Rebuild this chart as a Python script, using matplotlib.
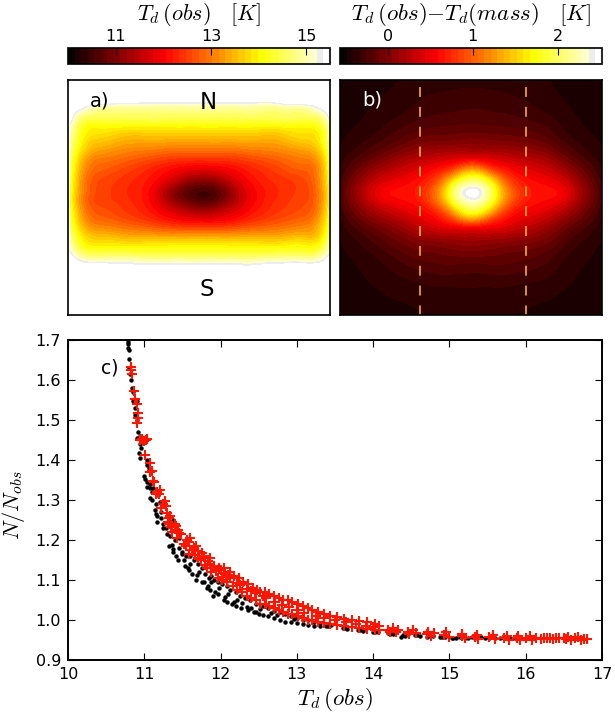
import matplotlib
matplotlib.use('Agg')
import numpy as np
import matplotlib.pyplot as plt
import matplotlib.tri as mtri
from matplotlib.colors import ListedColormap

# panel a: dust temperature map (pixel columns / rows of the panel)
a_x = [70, 80, 100, 125, 150, 170, 185, 202, 220, 235, 255, 280, 305, 322, 330]
a_y = [97, 101, 106, 115, 125, 135, 150, 165, 180, 195, 210, 225, 240, 250, 260, 268, 272]
a_T = [
    [15.6, 15.6, 15.6, 15.6, 15.6, 15.6, 15.6, 15.6, 15.6, 15.6, 15.6, 15.6, 15.6, 15.6, 15.6],
    [15.6, 15.6, 15.6, 15.5, 15.4, 15.4, 15.4, 15.4, 15.4, 15.4, 15.4, 15.5, 15.6, 15.6, 15.6],
    [15.6, 15.5, 15.1, 15.0, 15.0, 15.0, 15.0, 15.0, 15.0, 15.0, 15.0, 15.0, 15.1, 15.5, 15.6],
    [15.6, 14.9, 14.6, 14.6, 14.6, 14.6, 14.6, 14.6, 14.6, 14.6, 14.6, 14.6, 14.6, 14.9, 15.5],
    [15.2, 14.4, 14.1, 14.1, 14.1, 14.1, 14.1, 14.1, 14.1, 14.1, 14.1, 14.1, 14.1, 14.4, 15.0],
    [15.0, 14.2, 13.8, 13.6, 13.6, 13.6, 13.6, 13.6, 13.6, 13.6, 13.6, 13.6, 13.8, 14.1, 14.8],
    [14.7, 13.9, 13.3, 13.1, 13.0, 12.9, 12.9, 12.9, 12.9, 12.9, 13.0, 13.1, 13.3, 13.8, 14.5],
    [14.5, 13.5, 12.85, 12.65, 12.4, 12.2, 12.1, 12.05, 12.1, 12.2, 12.4, 12.65, 12.85, 13.4, 14.3],
    [14.3, 13.3, 12.6, 12.4, 12.15, 11.7, 11.3, 11.1, 11.3, 11.7, 12.15, 12.4, 12.6, 13.3, 14.1],
    [14.2, 13.2, 12.55, 12.35, 12.0, 11.2, 10.75, 10.5, 10.75, 11.3, 12.0, 12.35, 12.55, 13.2, 14.0],
    [14.3, 13.3, 12.65, 12.45, 12.15, 11.7, 11.4, 11.2, 11.4, 11.7, 12.15, 12.45, 12.65, 13.3, 14.1],
    [14.5, 13.6, 13.0, 12.8, 12.6, 12.4, 12.3, 12.3, 12.3, 12.4, 12.6, 12.8, 13.0, 13.6, 14.3],
    [14.9, 14.1, 13.7, 13.6, 13.6, 13.6, 13.6, 13.6, 13.6, 13.6, 13.6, 13.6, 13.7, 14.0, 14.8],
    [15.2, 14.5, 14.2, 14.2, 14.2, 14.2, 14.2, 14.2, 14.2, 14.2, 14.2, 14.2, 14.2, 14.5, 15.1],
    [15.6, 15.2, 15.0, 15.0, 14.9, 14.9, 14.9, 14.9, 14.9, 14.9, 14.9, 15.0, 15.0, 15.2, 15.6],
    [15.6, 15.6, 15.6, 15.55, 15.5, 15.5, 15.5, 15.5, 15.5, 15.5, 15.5, 15.55, 15.6, 15.6, 15.6],
    [15.6, 15.6, 15.6, 15.6, 15.6, 15.6, 15.6, 15.6, 15.6, 15.6, 15.6, 15.6, 15.6, 15.6, 15.6],
]

# panel b: T_obs - T_mass
b_x = [340, 360, 385, 405, 420, 440, 455, 472, 490, 505, 526, 545, 560, 580, 602]
b_y = [80, 110, 130, 145, 160, 172, 183, 193, 203, 214, 226, 241, 260, 285, 315]
b_T = [
    [-.45, -.44, -.42, -.40, -.38, -.37, -.36, -.36, -.36, -.37, -.38, -.40, -.42, -.44, -.45],
    [-.44, -.42, -.38, -.34, -.30, -.27, -.26, -.25, -.26, -.27, -.30, -.34, -.38, -.42, -.44],
    [-.43, -.39, -.31, -.23, -.18, -.15, -.14, -.13, -.14, -.15, -.18, -.23, -.31, -.39, -.43],
    [-.41, -.33, -.20, -.08, .00, .04, .05, .06, .05, .04, .00, -.08, -.20, -.33, -.41],
    [-.37, -.20, .02, .18, .27, .38, .46, .55, .46, .38, .27, .18, .02, -.20, -.37],
    [-.33, -.04, .24, .38, .50, .72, 1.05, 1.45, 1.05, .72, .50, .38, .24, -.04, -.33],
    [-.27, .10, .44, .56, .66, 1.05, 1.75, 2.15, 1.75, 1.05, .66, .56, .44, .10, -.27],
    [-.24, .17, .56, .63, .72, 1.25, 2.05, 2.50, 2.00, 1.25, .72, .63, .56, .17, -.24],
    [-.27, .10, .44, .56, .66, 1.10, 1.80, 2.22, 1.80, 1.10, .66, .56, .44, .10, -.27],
    [-.33, -.04, .22, .38, .50, .75, 1.20, 1.65, 1.20, .75, .50, .38, .22, -.04, -.33],
    [-.37, -.20, .00, .16, .30, .45, .55, .65, .55, .45, .30, .16, .00, -.20, -.37],
    [-.41, -.32, -.18, -.06, .02, .07, .10, .12, .10, .07, .02, -.06, -.18, -.32, -.41],
    [-.43, -.39, -.31, -.23, -.18, -.15, -.14, -.14, -.14, -.15, -.18, -.23, -.31, -.39, -.43],
    [-.44, -.42, -.39, -.36, -.34, -.32, -.32, -.32, -.32, -.32, -.34, -.36, -.39, -.42, -.44],
    [-.45, -.44, -.43, -.42, -.41, -.40, -.40, -.40, -.40, -.40, -.41, -.42, -.43, -.44, -.45],
]

# panel b: dashed lines (column positions in the panel)
b_lines = [420, 526]

# panel c: (T_d, N/N_obs) pairs
black_pts = [
    (10.78, 1.695), (10.79, 1.69), (10.79, 1.68), (10.80, 1.675), (10.80, 1.652), (10.80, 1.63), (10.81, 1.615),
    (10.83, 1.60), (10.84, 1.58), (10.85, 1.57), (10.85, 1.548), (10.88, 1.53), (10.90, 1.548), (10.88, 1.512),
    (10.91, 1.50), (10.92, 1.47), (10.94, 1.46), (10.91, 1.455), (10.94, 1.44), (10.93, 1.418), (10.96, 1.43),
    (10.94, 1.405), (11.04, 1.387), (11.06, 1.38), (11.03, 1.40), (11.05, 1.395), (11.01, 1.353), (11.04, 1.332),
    (11.08, 1.34), (11.10, 1.32), (11.10, 1.30), (11.18, 1.313), (11.20, 1.295), (11.00, 1.36), (11.03, 1.345),
    (11.07, 1.33), (11.12, 1.33), (11.08, 1.305), (11.15, 1.29), (11.14, 1.275), (11.16, 1.265), (11.17, 1.245),
    (11.17, 1.26), (11.22, 1.27), (11.22, 1.255), (11.25, 1.23), (11.24, 1.24), (11.28, 1.23), (11.32, 1.235),
    (11.37, 1.25), (11.37, 1.24), (11.36, 1.187), (11.34, 1.21), (11.33, 1.185), (11.30, 1.215), (11.38, 1.17),
    (11.40, 1.20), (11.46, 1.205), (11.44, 1.15), (11.42, 1.16), (11.38, 1.178), (11.45, 1.18), (11.50, 1.17),
    (11.50, 1.165), (11.57, 1.13), (11.52, 1.15), (11.55, 1.16), (11.53, 1.135), (11.60, 1.16), (11.58, 1.125),
    (11.60, 1.14), (11.65, 1.15), (11.63, 1.115), (11.69, 1.112), (11.70, 1.14), (11.68, 1.10), (11.72, 1.12),
    (11.75, 1.13), (11.75, 1.095), (11.78, 1.095), (11.80, 1.115), (11.82, 1.08), (11.83, 1.085), (11.87, 1.11),
    (11.86, 1.075), (11.88, 1.095), (11.92, 1.10), (11.90, 1.06), (11.93, 1.07), (11.85, 1.105), (11.97, 1.095),
    (11.96, 1.065), (11.98, 1.08), (12.02, 1.09), (12.04, 1.05), (12.06, 1.057), (12.08, 1.085), (12.09, 1.045),
    (12.10, 1.065), (12.13, 1.075), (12.15, 1.04), (12.17, 1.046), (12.20, 1.07), (12.20, 1.035), (12.22, 1.05),
    (12.25, 1.06), (12.27, 1.03), (12.28, 1.042), (12.32, 1.055), (12.34, 1.033), (12.36, 1.025), (12.38, 1.05),
    (12.40, 1.03), (12.44, 1.02), (12.46, 1.04), (12.47, 1.02), (12.50, 1.015), (12.52, 1.028), (12.56, 1.012),
    (12.56, 1.035), (12.62, 1.01), (12.62, 1.03), (12.66, 1.017), (12.70, 1.005), (12.70, 1.022), (12.74, 1.012),
    (12.78, 1.00), (12.78, 1.02), (12.85, .995), (12.85, 1.015), (12.92, .995), (12.92, 1.01), (12.96, 1.002),
    (13.00, .993), (13.00, 1.005), (13.08, .99), (13.08, 1.00), (13.15, .988), (13.15, 1.00), (13.22, .986),
    (13.22, .996), (13.30, .985), (13.30, .993), (13.38, .985), (13.41, .986), (13.45, .988), (13.60, .981),
    (13.63, .98), (13.66, .978), (13.80, .976), (13.83, .975), (13.87, .973), (14.00, .971), (14.02, .97),
    (14.06, .969), (14.20, .967), (14.22, .966), (14.26, .965), (14.36, .957), (14.39, .962), (14.42, .96),
    (14.46, .964), (14.55, .962), (14.58, .962), (14.62, .96), (14.70, .957), (14.72, .96), (14.78, .959),
    (14.88, .958), (14.90, .958), (14.94, .957), (15.03, .954), (15.05, .956), (15.08, .955), (15.14, .958),
    (15.20, .956), (15.24, .955), (15.30, .957), (15.36, .955), (15.42, .957), (15.47, .956), (15.52, .955),
    (15.60, .956), (15.66, .955), (15.72, .956), (15.80, .955), (15.86, .955), (15.90, .954),
]
red_pts = [
    (10.82, 1.632), (10.83, 1.625), (10.84, 1.615), (10.86, 1.572), (10.88, 1.552), (10.90, 1.54), (10.92, 1.518),
    (10.92, 1.505), (10.91, 1.493), (10.97, 1.452), (10.99, 1.448), (11.03, 1.452), (10.95, 1.45), (11.02, 1.45),
    (11.01, 1.412), (11.07, 1.392), (11.10, 1.372), (11.08, 1.37), (11.11, 1.348), (11.13, 1.345), (11.17, 1.32),
    (11.19, 1.316), (11.20, 1.325), (11.15, 1.315), (11.27, 1.298), (11.22, 1.28), (11.28, 1.285), (11.25, 1.29),
    (11.30, 1.267), (11.32, 1.255), (11.34, 1.26), (11.35, 1.232), (11.33, 1.24), (11.31, 1.245), (11.36, 1.22),
    (11.42, 1.236), (11.40, 1.24), (11.46, 1.217), (11.44, 1.225), (11.48, 1.215), (11.43, 1.205), (11.52, 1.19),
    (11.60, 1.206), (11.55, 1.186), (11.56, 1.20), (11.58, 1.195), (11.62, 1.175), (11.58, 1.165), (11.65, 1.18),
    (11.66, 1.162), (11.68, 1.185), (11.70, 1.172), (11.70, 1.155), (11.76, 1.167), (11.74, 1.15), (11.78, 1.16),
    (11.83, 1.147), (11.80, 1.138), (11.82, 1.13), (11.86, 1.155), (11.86, 1.14), (11.88, 1.12), (11.94, 1.122),
    (11.92, 1.135), (11.90, 1.13), (11.96, 1.105), (11.98, 1.13), (12.00, 1.125), (12.05, 1.118), (12.03, 1.108),
    (12.02, 1.10), (12.04, 1.13), (12.08, 1.095), (12.10, 1.112), (12.13, 1.105), (12.09, 1.095), (12.12, 1.12),
    (12.16, 1.085), (12.18, 1.11), (12.22, 1.075), (12.22, 1.092), (12.24, 1.105), (12.26, 1.088), (12.28, 1.07),
    (12.30, 1.095), (12.34, 1.06), (12.35, 1.078), (12.36, 1.09), (12.40, 1.055), (12.40, 1.072), (12.42, 1.08),
    (12.45, 1.068), (12.46, 1.05), (12.48, 1.075), (12.52, 1.04), (12.52, 1.07), (12.55, 1.06), (12.58, 1.04),
    (12.58, 1.07), (12.60, 1.055), (12.64, 1.035), (12.64, 1.065), (12.70, 1.03), (12.70, 1.06), (12.72, 1.046),
    (12.76, 1.025), (12.76, 1.055), (12.80, 1.038), (12.82, 1.02), (12.82, 1.05), (12.88, 1.015), (12.88, 1.05),
    (12.90, 1.032), (12.94, 1.015), (12.94, 1.045), (13.00, 1.025), (13.02, 1.01), (13.02, 1.04), (13.08, 1.005),
    (13.08, 1.035), (13.10, 1.018), (13.14, 1.00), (13.14, 1.03), (13.20, 1.00), (13.20, 1.025), (13.25, 1.011),
    (13.28, .995), (13.28, 1.02), (13.35, 1.006), (13.36, .992), (13.36, 1.015), (13.44, .99), (13.44, 1.01),
    (13.50, 1.00), (13.52, .988), (13.52, 1.007), (13.62, .985), (13.62, 1.003), (13.65, .994), (13.72, .982),
    (13.72, 1.00), (13.78, .99), (13.82, .98), (13.82, .997), (13.90, .985), (13.92, .978), (13.92, .994),
    (14.00, .982), (14.02, .975), (14.02, .99), (14.08, .975), (14.08, .985), (14.20, .976), (14.22, .97),
    (14.26, .98), (14.30, .97), (14.33, .975), (14.46, .971), (14.47, .965), (14.52, .975), (14.56, .968),
    (14.70, .966), (14.72, .97), (14.76, .96), (14.80, .967), (14.93, .963), (14.95, .97), (14.99, .958),
    (15.16, .96), (15.17, .965), (15.21, .955), (15.34, .958), (15.36, .963), (15.38, .952), (15.52, .957),
    (15.57, .962), (15.60, .952), (15.72, .956), (15.76, .96), (15.78, .951), (15.88, .955), (15.90, .96),
    (15.92, .951), (16.00, .955), (16.06, .96), (16.08, .949), (16.14, .955), (16.20, .953), (16.24, .955),
    (16.28, .956), (16.32, .955), (16.36, .953), (16.40, .954), (16.44, .955), (16.50, .954), (16.53, .952),
    (16.56, .957), (16.60, .95), (16.64, .954), (16.68, .958), (16.72, .949), (16.76, .953), (16.80, .953),
]

T_ticks = [10, 11, 12, 13, 14, 15, 16, 17]
N_ticks = [0.9, 1.0, 1.1, 1.2, 1.3, 1.4, 1.5, 1.6, 1.7]

W, H = 615, 716
plt.rcParams['font.family'] = 'DejaVu Sans'
plt.rcParams['mathtext.fontset'] = 'cm'
N_BANDS = 40


def box(x0, y0, x1, y1):
    return [x0 / W, 1 - y1 / H, (x1 - x0) / W, (y1 - y0) / H]


def band_cmap(n=N_BANDS):
    colors = plt.get_cmap('hot')(np.linspace(0, 1, n))
    colors[-2] = [0.93, 0.93, 0.93, 1]
    return ListedColormap(colors)


def map_panel(fig, pos, cpos, xs, ys, zs, vmin, vmax, ticks, title, tsize):
    ax = fig.add_axes(box(*pos))
    levels = np.linspace(vmin, vmax, N_BANDS + 1)
    # smooth the table with a cubic mesh refinement so the bands come out round
    gx, gy = np.meshgrid(xs, ys)
    tri = mtri.Triangulation(gx.ravel(), gy.ravel())
    refiner = mtri.UniformTriRefiner(tri)
    tri2, z2 = refiner.refine_field(np.array(zs, dtype=float).ravel(), subdiv=3)
    cs = ax.tricontourf(tri2, z2, levels=levels, cmap=band_cmap(), extend='neither')
    ax.set_xlim(pos[0], pos[2])
    ax.set_ylim(pos[3], pos[1])
    ax.set_xticks([])
    ax.set_yticks([])
    for s in ax.spines.values():
        s.set_linewidth(1.2)

    cax = fig.add_axes(box(*cpos))
    cb = fig.colorbar(cs, cax=cax, orientation='horizontal', ticks=ticks)
    cb.ax.xaxis.set_ticks_position('top')
    cb.ax.tick_params(axis='x', direction='in', length=5, width=0.8, labelsize=11.5, pad=3)
    cb.ax.minorticks_off()
    cb.outline.set_linewidth(1.2)
    cb.set_ticklabels([str(t) for t in ticks])
    fig.text((pos[0] + pos[2]) / 2 / W, 1 - 15 / H, title, ha='center', va='center', fontsize=tsize)
    return ax


fig = plt.figure(figsize=(W / 100, H / 100), dpi=100)

ax_a = map_panel(fig, (68, 80, 330, 315), (68, 48, 330, 64), a_x, a_y, a_T, 10.0, 15.5, [11, 13, 15],
                 r'$T_d\,(obs)\quad[K]$', 16)
ax_a.text(100, 101, 'a)', fontsize=14, ha='center', va='center')
ax_a.text(208, 102, 'N', fontsize=16.5, ha='center', va='center')
ax_a.text(207, 290, 'S', fontsize=16.5, ha='center', va='center')

ax_b = map_panel(fig, (340, 80, 602, 315), (340, 48, 602, 64), b_x, b_y, b_T, -0.56, 2.52, [0, 1, 2],
                 r'$T_d\,(obs){-}T_d(mass)\quad[K]$', 16.5)
ax_b.text(372, 100, 'b)', fontsize=14, ha='center', va='center', color='white')
for xv in b_lines:
    ax_b.plot([xv, xv], [87, 315], color='#e8a317', lw=1.3, dashes=(5.5, 5.5))

ax_c = fig.add_axes(box(68, 340, 602, 660))
ax_c.plot(*zip(*black_pts), 'o', color='black', ms=3.2, mew=0)
ax_c.plot(*zip(*red_pts), '+', color='#ff1500', ms=7, mew=1.5)
ax_c.set_xlim(10, 17)
ax_c.set_ylim(0.9, 1.7)
ax_c.set_xticks(T_ticks)
ax_c.set_yticks(N_ticks)
ax_c.set_yticklabels(['%.1f' % v for v in N_ticks])
ax_c.tick_params(direction='in', top=True, right=True, length=5, width=0.8, labelsize=11.5, pad=5)
for s in ax_c.spines.values():
    s.set_linewidth(1.4)
ax_c.set_xlabel(r'$T_d\,(obs)$', fontsize=16.5, labelpad=3)
ax_c.set_ylabel(r'$N/N_{obs}$', fontsize=16, labelpad=6, y=0.485)
ax_c.text(10.55, 1.63, 'c)', fontsize=13.5, ha='center', va='center')

fig.savefig('out.png', dpi=100)
